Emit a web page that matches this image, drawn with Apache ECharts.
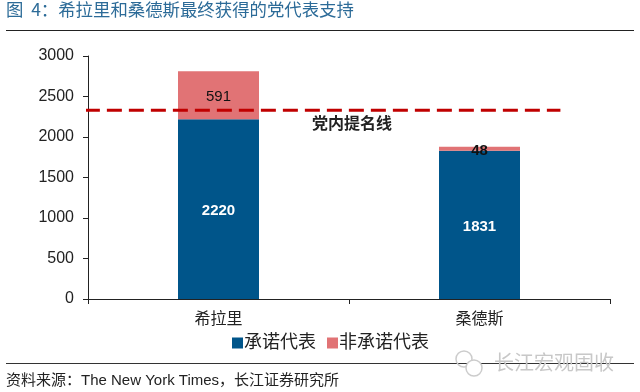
<!DOCTYPE html>
<html><head><meta charset="utf-8">
<style>html,body{margin:0;padding:0;background:#fff}#c{width:640px;height:392px}</style>
<script src="https://cdn.jsdelivr.net/npm/echarts@6/dist/echarts.min.js"></script>
</head><body><div id="c"></div>
<script>
const categories = ['希拉里','桑德斯'];
const pledged = [2220,1831];
const unpledged = [591,48];
const unpledgedWeights = ['normal','bold'];
const thresholdX = [-0.006,0.905];
const thresholdValue = [2330,2330];
const yTicks = [0,500,1000,1500,2000,2500,3000];
const cn = '"Liberation Sans","Noto Sans CJK SC",sans-serif';
const chart = echarts.init(document.getElementById('c'),null,{renderer:'canvas'});
chart.setOption({
  animation:false,
  backgroundColor:'#fff',
  textStyle:{fontFamily:cn},
  grid:{left:88,right:30,top:56,bottom:93,containLabel:false},
  legend:{show:true,data:[{name:'承诺代表'},{name:'非承诺代表'}],top:329,left:227,itemWidth:11,itemHeight:11,itemGap:11,icon:'rect',
    textStyle:{fontFamily:cn,fontSize:18,color:'#222',padding:[0,0,0,-4]}},
  xAxis:[
    {type:'category',data:categories,axisLine:{lineStyle:{color:'#222',width:1}},axisTick:{show:true,length:5,inside:false,lineStyle:{color:'#222'}},
     axisLabel:{fontFamily:cn,fontSize:16,color:'#222',margin:13}},
    {type:'value',min:0,max:1,show:false}
  ],
  yAxis:{type:'value',min:0,max:3000,interval:500,
    axisLine:{show:true,lineStyle:{color:'#222',width:1}},axisTick:{show:true,length:5,lineStyle:{color:'#222'}},splitLine:{show:false},
    axisLabel:{fontFamily:cn,fontSize:16,color:'#222',margin:14,formatter:v=>yTicks.includes(v)?String(v):''}},
  series:[
    {name:'承诺代表',type:'bar',stack:'a',data:pledged,barWidth:81,itemStyle:{color:'#00558a'},
     label:{show:true,position:'inside',offset:[0,2],color:'#fff',fontSize:15,fontWeight:'bold',fontFamily:cn}},
    {name:'非承诺代表',type:'bar',stack:'a',data:unpledged.map((v,i)=>({value:v,label:{fontWeight:unpledgedWeights[i]}})),itemStyle:{color:'#e17375'},
     label:{show:true,position:'inside',offset:[0,2],color:'#111',fontSize:15,fontFamily:cn}},
    {name:'党内提名线',type:'line',xAxisIndex:1,data:thresholdX.map((x,i)=>[x,thresholdValue[i]]),symbol:'none',clip:false,silent:true,z:5,
     lineStyle:{color:'#c00000',width:3,type:[15,7]}}
  ],
  graphic:[
    {type:'text',left:6,top:1,style:{text:'图  4：希拉里和桑德斯最终获得的党代表支持',fontFamily:'"Noto Sans CJK SC",sans-serif',fontSize:17.4,fill:'#2c6b98'}},
    {type:'rect',shape:{x:6,y:30,width:628,height:1},style:{fill:'#222'}},
    {type:'text',left:312,top:115,style:{text:'党内提名线',fontFamily:'"Noto Sans CJK SC",sans-serif',fontWeight:'bold',fontSize:16,fill:'#222'}},
    {type:'rect',shape:{x:6,y:363,width:628,height:1},style:{fill:'#333'}},
    {type:'text',left:6,top:373,style:{text:'资料来源：The New York Times，长江证券研究所',fontFamily:cn,fontSize:15,fill:'#222'}},
    {type:'circle',shape:{cx:464,cy:359,r:8},style:{fill:'none',stroke:'#ccc',lineWidth:1.5}},
    {type:'circle',shape:{cx:474,cy:368,r:8},style:{fill:'#fff',stroke:'#ccc',lineWidth:1.5}},
    {type:'text',left:494,top:352,style:{text:'长江宏观固收',fontFamily:'"Noto Sans CJK SC",sans-serif',fontSize:20,fill:'#c8c8c8'}}
  ]
});
</script></body></html>
